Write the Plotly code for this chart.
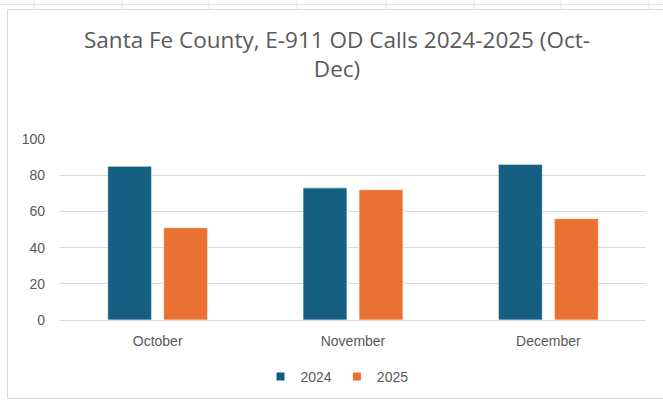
import plotly.graph_objects as go

# ---- data ----
months = ["October", "November", "December"]
calls_2024 = [85, 73, 86]
calls_2025 = [51, 72, 56]
series_names = ["2024", "2025"]
series_colors = ["#156082", "#E97132"]
y_tick_values = [0, 20, 40, 60, 80, 100]
title_text = "Santa Fe County, E-911 OD Calls 2024-2025 (Oct-<br>Dec)"

# ---- layout geometry ----
W, H = 663, 402
ML, MR, MT, MB = 60, 17, 139, 82
PW, PH = W - ML - MR, H - MT - MB


def px(x):
    return (x - ML) / PW


def py(y):
    return (H - MB - y) / PH


TEXT = "#595959"
GRID = "#D9D9D9"
FONT = "Liberation Sans"

fig = go.Figure()
for name, vals, col in zip(series_names, [calls_2024, calls_2025], series_colors):
    fig.add_trace(go.Bar(
        x=months, y=vals, name=name, legendgroup=name, showlegend=False,
        marker=dict(color=col, line=dict(color="rgba(255,255,255,0.7)", width=1)),
    ))
# legend entries with small square keys
for name, col in zip(series_names, series_colors):
    fig.add_trace(go.Scatter(
        x=[None], y=[None], mode="markers", name=name, legendgroup=name,
        marker=dict(symbol="square", size=8, color=col), hoverinfo="skip",
    ))

# decorative spreadsheet background / chart-area border
shapes = []
shapes.append(dict(type="rect", xref="paper", yref="paper",
                   x0=px(7.5), x1=px(700), y0=py(398.5), y1=py(9.5),
                   line=dict(color=GRID, width=1), layer="below"))
shapes.append(dict(type="line", xref="paper", yref="paper",
                   x0=px(0), x1=px(663), y0=py(4.5), y1=py(4.5),
                   line=dict(color="#E3E3E3", width=1), layer="below"))
for gx in [34, 122, 209, 297, 386, 474, 561, 649]:
    shapes.append(dict(type="line", xref="paper", yref="paper",
                       x0=px(gx), x1=px(gx), y0=py(0), y1=py(9),
                       line=dict(color="#E3E3E3", width=1), layer="below"))

fig.update_layout(
    width=W, height=H,
    margin=dict(l=ML, r=MR, t=MT, b=MB, pad=0, autoexpand=False),
    paper_bgcolor="white", plot_bgcolor="white",
    barmode="group", bargap=0.4266, bargroupgap=0.214,
    title=dict(text=title_text, xref="container", yref="container",
               x=337 / W, xanchor="center", y=1 - 48 / H, yanchor="top",
               font=dict(family="Open Sans", size=22.5, color=TEXT)),
    font=dict(family=FONT, size=14, color=TEXT),
    xaxis=dict(showgrid=False, showline=False, ticks="", zeroline=False,
               automargin=False,
               tickfont=dict(family=FONT, size=14, color=TEXT),
               ticklabelstandoff=11),
    yaxis=dict(range=[0, 100], tickvals=y_tick_values, showgrid=True,
               gridcolor=GRID, gridwidth=1, zeroline=True, zerolinecolor=GRID,
               zerolinewidth=1, showline=False, ticks="", automargin=False,
               tickfont=dict(family=FONT, size=14, color=TEXT),
               ticklabelstandoff=14, fixedrange=True),
    legend=dict(orientation="h", x=px(337), xanchor="center", y=py(377),
                yanchor="middle", font=dict(family=FONT, size=14, color=TEXT),
                itemwidth=30, bgcolor="rgba(0,0,0,0)"),
    shapes=shapes,
)

fig.write_html("out.html", config={"displayModeBar": False},
               post_script="document.body.style.margin='0';")
